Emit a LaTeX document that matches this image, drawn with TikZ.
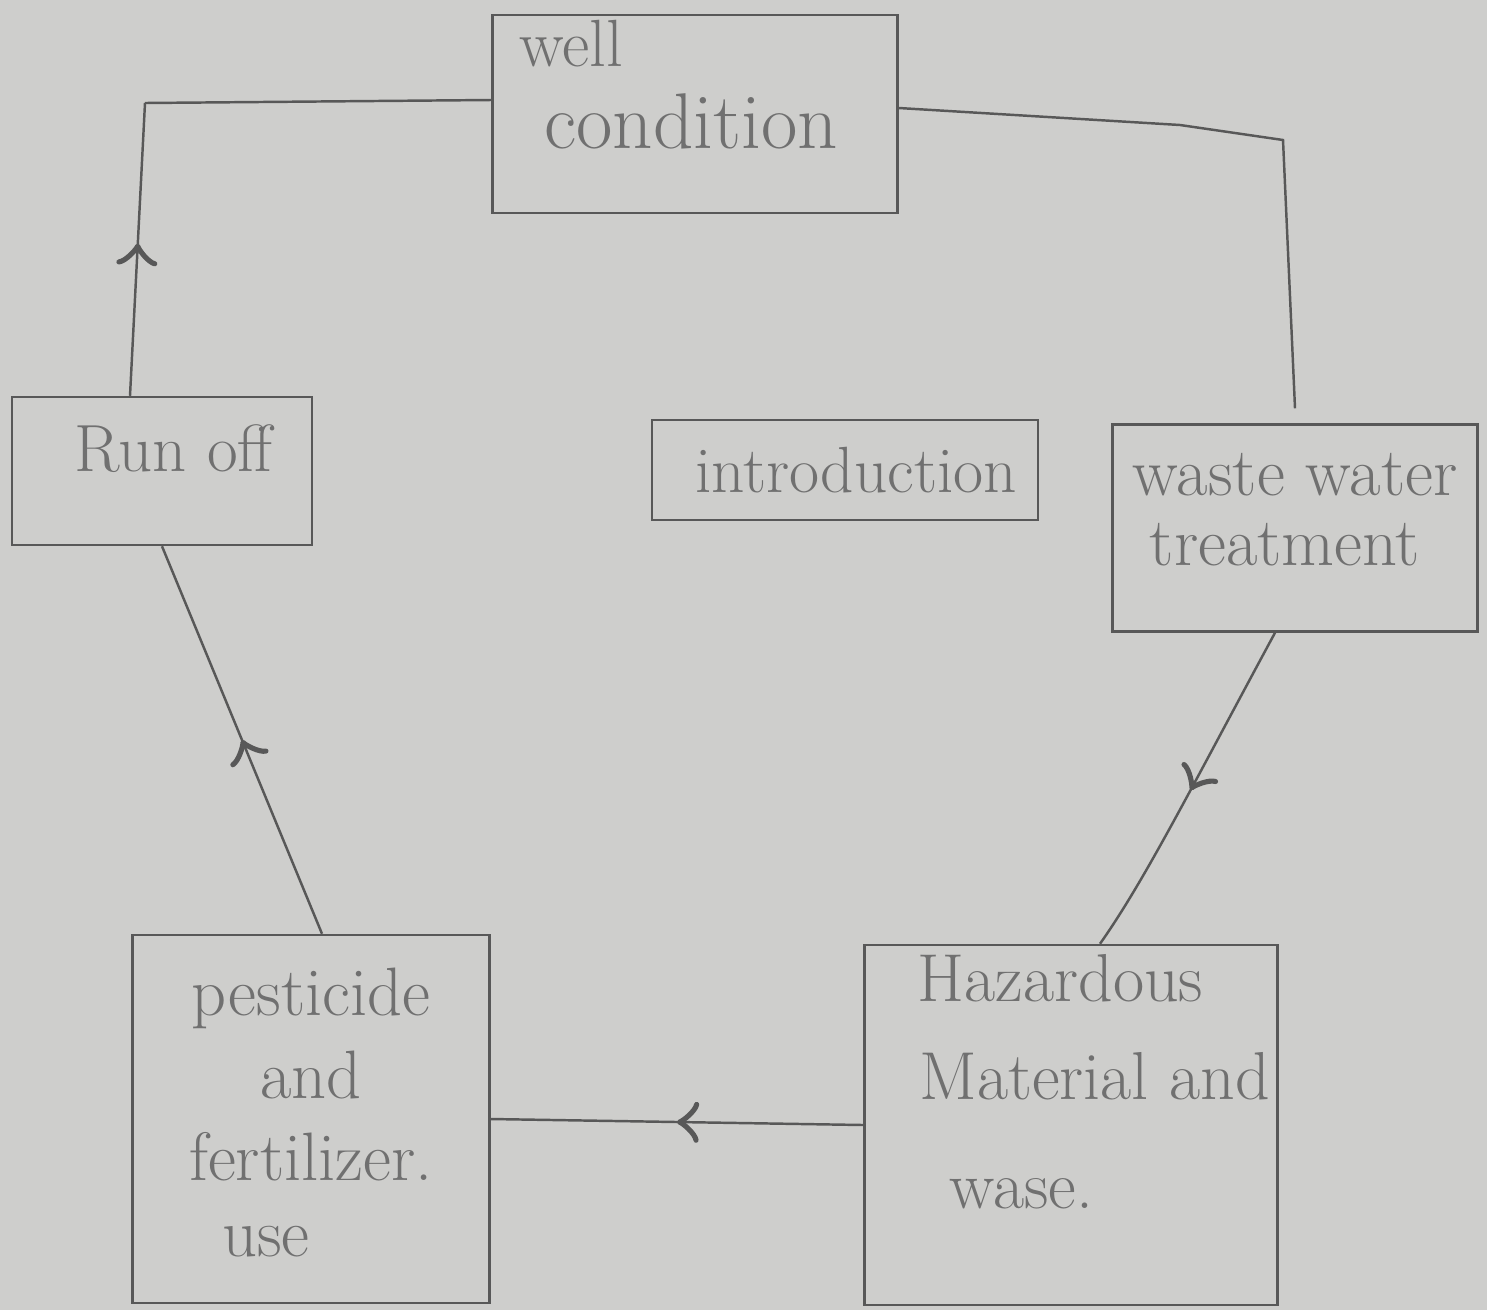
\documentclass[tikz,border=0pt]{standalone}
\usepackage{tikz}
\usetikzlibrary{arrows}
\usetikzlibrary{decorations.markings}

\definecolor{paper}{RGB}{206,206,204}
\definecolor{pencil}{RGB}{88,88,88}
\definecolor{inkgray}{RGB}{112,112,112}

\begin{document}
\begin{tikzpicture}[
        box/.style={draw=pencil, line width=0.7pt, text=inkgray, inner sep=0pt},
        line/.style={draw=pencil, line width=0.7pt},
        flow/.style={line, postaction={decorate}, decoration={markings,
            mark=at position #1 with {\arrow[pencil, scale=2.6]{>}}}},
        flow/.default=0.5
    ]
        \fill[paper] (0, 0) rectangle (14.87, -13.10);
        \useasboundingbox (0, 0) rectangle (14.87, -13.10);

        \draw (6.95, -1.14) node[box] (well) {\parbox[c][1.98cm][t]{4.05cm}{\raggedright
            \vspace*{0.05cm}\fontsize{19}{21}\selectfont\hspace*{0.27cm}well\par
            \fontsize{22.5}{23.5}\selectfont\hspace*{0.52cm}condition}};
        \draw (1.62, -4.71) node[box] (runoff) {\parbox[c][1.48cm][t]{3.00cm}{\raggedright
            \vspace*{0.28cm}\fontsize{19}{22}\selectfont\hspace*{0.63cm}Run off}};
        \draw (8.45, -4.70) node[box] (intro) {\parbox[c][1.00cm][c]{3.86cm}{\raggedright
            \fontsize{18.6}{22}\selectfont\hspace*{0.43cm}introduction}};
        \draw (12.95, -5.28) node[box] (waste) {\parbox[c][2.07cm][t]{3.65cm}{\centering
            \vspace*{0.29cm}\fontsize{19.5}{20}\selectfont waste water\hspace*{0.2cm}\\treatment\hspace*{0.2cm}\par}};
        \draw (3.11, -11.19) node[box] (pest) {\parbox[c][3.68cm][t]{3.57cm}{\centering
            \vspace*{0.33cm}\fontsize{19.5}{23.5}\selectfont pesticide\\and\hspace*{0.3cm}\\fertilizer.\hspace*{0.45cm}\\[-2pt]use\hspace*{0.9cm}\par}};
        \draw (10.71, -11.25) node[box] (hazard) {\parbox[c][3.60cm][t]{4.13cm}{\raggedright
            \vspace*{0.09cm}\fontsize{19.3}{28}\selectfont\hspace*{0.53cm}Hazardous\\\hspace*{0.55cm}Material and\\[3pt]\hspace*{0.85cm}wase.\par}};

        \coordinate (tl) at (1.45, -1.03);
        \coordinate (tr) at (12.83, -1.40);

        \draw[flow=0.52] ([xshift=-3.2mm]runoff.north) -- (tl);
        \draw[line] (tl) -- ([yshift=1.4mm]well.west);
        \draw[line] ([yshift=0.6mm]well.east) -- (11.80, -1.25) -- (tr) -- ([yshift=1.5mm]waste.north);
        \draw[flow=0.5] ([xshift=-2mm]waste.south) .. controls (11.90, -7.90) and (11.45, -8.80) .. ([xshift=2.9mm]hazard.north);
        \draw[flow=0.5] (hazard.west) -- (pest.east);
        \draw[flow=0.5] ([xshift=1.1mm]pest.north) -- (runoff.south);
    \end{tikzpicture}
\end{document}
